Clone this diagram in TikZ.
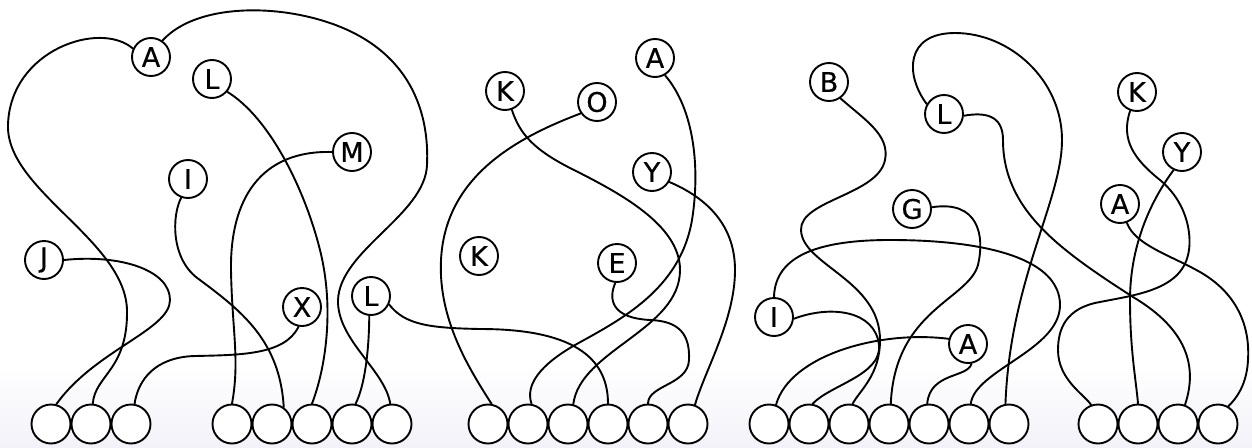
\documentclass[tikz,border=0pt]{standalone}
\usepackage{fontspec}
\setmainfont{DejaVu Sans}
\newfontfamily\lblfont{DejaVu Sans}[FakeBold=0.6]
\definecolor{bgbot}{RGB}{243,242,249}
\begin{document}
\begin{tikzpicture}[x=1pt,y=-1pt,
  lbl/.style={circle, draw=black, fill=white, line width=1.9pt, minimum size=38pt, inner sep=0pt, font=\lblfont\fontsize{27}{27}\selectfont},
  base/.style={circle, draw=black, fill=white, line width=1.9pt, minimum size=39pt, inner sep=0pt},
  wire/.style={line width=1.9pt, line cap=round}]
\useasboundingbox (0,0) rectangle (1252,447);
\fill[top color=white, bottom color=bgbot] (0,362) rectangle (1252,447);
% labelled nodes
\node[lbl] (A1) at (151,57) {A};
\node[lbl] (L1) at (212,79) {L};
\node[lbl] (I1) at (188,179) {I};
\node[lbl] (M) at (352,152) {M};
\node[lbl] (J) at (44,260) {J};
\node[lbl] (X) at (302,307) {X};
\node[lbl] (L2) at (371,296) {L};
\node[lbl] (K1) at (505,91) {K};
\node[lbl] (O) at (597,102) {O};
\node[lbl] (A2) at (655,58) {A};
\node[lbl] (Y1) at (652,172) {Y};
\node[lbl] (K2) at (479,256) {K};
\node[lbl] (E) at (617,263) {E};
\node[lbl] (B) at (829,82) {B};
\node[lbl] (L3) at (944,114) {L};
\node[lbl] (G) at (912,209) {G};
\node[lbl] (I2) at (774,317) {I};
\node[lbl] (A3) at (968,344) {A};
\node[lbl] (K3) at (1137,92) {K};
\node[lbl] (Y2) at (1182,152) {Y};
\node[lbl] (A4) at (1120,204) {A};
% base circles
\foreach \n/\x in {c11/51,c12/91,c13/131,c21/232,c22/272,c23/312,c24/352,c25/392,
  c31/488,c32/528,c33/568,c34/608,c35/648,c36/688,
  c41/769,c42/809,c43/849,c44/889,c45/929,c46/969,c47/1009,
  c51/1098,c52/1138,c53/1178,c54/1218}
  \node[base] (\n) at (\x,424) {};
% wires
\draw[wire] (A1.155) .. controls (100,20) and (10,50) .. (8,125) .. controls (6,190) and (125,240) .. (127,310) .. controls (128,370) and (95,375) .. (c12.85);
\draw[wire] (A1.55) .. controls (190,10) and (250,5) .. (300,15) .. controls (400,35) and (430,100) .. (427,165) .. controls (425,215) and (340,250) .. (338,300) .. controls (337,340) and (385,370) .. (c25.95);
\draw[wire] (L1.-40) .. controls (270,118) and (305,190) .. (320,250) .. controls (335,310) and (325,370) .. (c23.90);
\draw[wire] (I1.-110) .. controls (172,215) and (170,260) .. (200,280) .. controls (240,310) and (280,340) .. (c22.55);
\draw[wire] (M.west) .. controls (260,150) and (230,200) .. (231,270) .. controls (232,330) and (240,360) .. (c21.90);
\draw[wire] (J.east) .. controls (120,254) and (170,270) .. (170,300) .. controls (170,330) and (95,350) .. (c11.75);
\draw[wire] (X.-100) .. controls (285,355) and (240,355) .. (195,356) .. controls (155,357) and (138,380) .. (c13.80);
\draw[wire] (L2.-95) .. controls (369,350) and (365,385) .. (c24.80);
\draw[wire] (L2.-25) .. controls (405,325) and (430,328) .. (480,329) .. controls (560,329) and (608,350) .. (c34.90);
\draw[wire] (K1.-70) .. controls (520,135) and (535,150) .. (570,168) .. controls (620,193) and (680,225) .. (680,270) .. controls (680,330) and (580,350) .. (c33.75);
\draw[wire] (O.-145) .. controls (510,140) and (445,180) .. (441,260) .. controls (438,320) and (470,370) .. (c31.80);
\draw[wire] (A2.-60) .. controls (695,110) and (700,170) .. (692,220) .. controls (680,290) and (620,320) .. (575,345) .. controls (540,365) and (525,385) .. (c32.80);
\draw[wire] (Y1.-30) .. controls (700,195) and (735,220) .. (735,270) .. controls (735,320) and (705,370) .. (c36.70);
\draw[wire] (E.-95) .. controls (608,300) and (612,318) .. (650,320) .. controls (680,321) and (690,335) .. (689,360) .. controls (688,385) and (648,385) .. (c35.90);
\draw[wire] (B.-55) .. controls (865,120) and (890,135) .. (885,160) .. controls (878,195) and (800,200) .. (801,230) .. controls (802,265) and (880,280) .. (880,340) .. controls (880,375) and (860,390) .. (c43.80);
\draw[wire] (I2.-5) .. controls (830,305) and (875,310) .. (879,345) .. controls (882,375) and (830,385) .. (c42.80);
\draw[wire] (I2.north) .. controls (775,255) and (820,240) .. (890,240) .. controls (990,240) and (1060,260) .. (1060,305) .. controls (1060,350) and (975,370) .. (c46.85);
\draw[wire] (A3.165) .. controls (880,330) and (790,355) .. (c41.70);
\draw[wire] (A3.-80) .. controls (968,378) and (930,372) .. (c45.95);
\draw[wire] (G.5) .. controls (978,200) and (985,235) .. (978,265) .. controls (968,300) and (895,310) .. (c44.85);
\draw[wire] (L3.150) .. controls (905,75) and (905,33) .. (955,33) .. controls (1010,33) and (1062,80) .. (1062,140) .. controls (1062,200) and (1010,280) .. (c47.100);
\draw[wire] (L3.-5) .. controls (985,112) and (1003,115) .. (1003,140) .. controls (1003,210) and (1060,250) .. (1133,297) .. controls (1180,325) and (1200,360) .. (c53.70);
\draw[wire] (K3.-110) .. controls (1120,140) and (1135,160) .. (1160,180) .. controls (1190,205) and (1192,240) .. (1188,255) .. controls (1180,290) and (1135,295) .. (1100,302) .. controls (1065,308) and (1058,330) .. (1058,350) .. controls (1058,380) and (1085,395) .. (c51.110);
\draw[wire] (Y2.-115) .. controls (1155,195) and (1130,240) .. (1130,300) .. controls (1130,350) and (1136,380) .. (c52.90);
\draw[wire] (A4.-70) .. controls (1135,245) and (1170,255) .. (1200,272) .. controls (1240,295) and (1250,330) .. (1248,360) .. controls (1247,380) and (1240,395) .. (c54.60);
\end{tikzpicture}
\end{document}
